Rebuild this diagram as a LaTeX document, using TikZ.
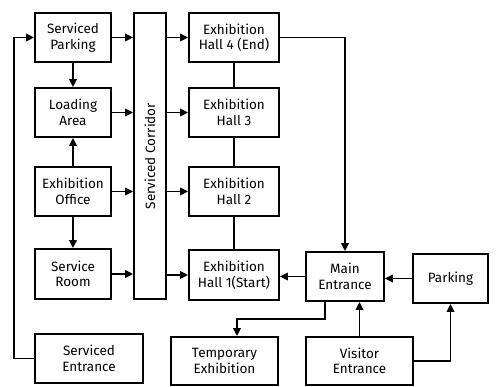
\documentclass[tikz,border=0pt]{standalone}
\usepackage{fontspec}
\setmainfont{Fira Sans}
\usetikzlibrary{arrows.meta}
\begin{document}
\begin{tikzpicture}[x=1pt,y=-1pt,
  box/.style={draw, line width=1.8pt, align=center, inner sep=1pt,
    font=\fontsize{13.5}{15.5}\selectfont},
  conn/.style={line width=1.8pt},
  arr/.style={conn, -{Triangle[length=8pt,width=7.5pt]}}]
\useasboundingbox[fill=white] (0,0) rectangle (499,387);

% service side
\node[box, minimum width=76pt, minimum height=49pt] (sp) at (73,37.5) {Serviced\\Parking};
\node[box, minimum width=76pt, minimum height=49pt] (la) at (73,112.5) {Loading\\Area};
\node[box, minimum width=76pt, minimum height=49pt] (eo) at (73,191.5) {Exhibition\\Office};
\node[box, minimum width=76pt, minimum height=50pt] (sr) at (73,274) {Service\\Room};
\node[box, minimum width=108pt, minimum height=49pt] (se) at (89,358.5) {Serviced\\Entrance};

% corridor
\node[box, minimum width=32pt, minimum height=286pt] (sc) at (150,156) {};
\node[rotate=90, font=\fontsize{13.5}{15.5}\selectfont] (sct) at (sc.center) {Serviced Corridor};

% halls
\node[box, minimum width=90pt, minimum height=49pt] (h4) at (234,37.5) {Exhibition\\Hall 4 (End)};
\node[box, minimum width=90pt, minimum height=49pt] (h3) at (234,112.5) {Exhibition\\Hall 3};
\node[box, minimum width=90pt, minimum height=49pt] (h2) at (234,191.5) {Exhibition\\Hall 2};
\node[box, minimum width=90pt, minimum height=50pt] (h1) at (234,275) {Exhibition\\Hall 1(Start)};

% visitor side
\node[box, minimum width=78pt, minimum height=49pt] (me) at (345,276.5) {Main\\Entrance};
\node[box, minimum width=75pt, minimum height=49pt] (pk) at (450.5,278.5) {Parking};
\node[box, minimum width=107pt, minimum height=48pt] (ve) at (359.5,361) {Visitor\\Entrance};
\node[box, minimum width=107pt, minimum height=48pt] (te) at (224.5,361) {Temporary\\Exhibition};

% service flows
\draw[arr] (sp) -- (la);
\draw[arr] (eo) -- (la);
\draw[arr] (eo) -- (sr);
\draw[arr] (se.west) -- ++(-20,0) |- (sp.west);
\foreach \n in {sp,la,eo,sr}
  \draw[arr] (\n.east) -- (\n.east -| sc.west);
\draw[arr] (sc.east |- h4.west) -- (h4.west);
\draw[arr] (sc.east |- h3.west) -- (h3.west);
\draw[arr] (sc.east |- h2.west) -- (h2.west);
\draw[arr] (sc.east |- h1.west) -- (h1.west);

% hall sequence
\draw[conn] (h4) -- (h3);
\draw[conn] (h3) -- (h2);
\draw[conn] (h2) -- (h1);

% visitor flows
\draw[arr] (h4.east) -| (me.north);
\draw[arr] (me.west) -- (me.west -| h1.east);
\draw[arr] (pk.west) -- (pk.west -| me.east);
\draw[arr] (ve.north) -- (ve.north |- me.south);
\draw[arr] (ve.east) -| (pk.south);
\coordinate (mb) at ([xshift=-20pt]me.south);
\coordinate (tt) at ([xshift=12.5pt]te.north);
\draw[arr] (mb) -- ++(0,17) -| (tt);
\end{tikzpicture}
\end{document}
